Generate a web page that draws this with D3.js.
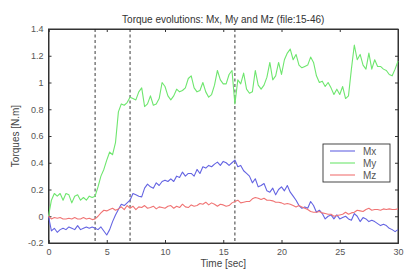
<!DOCTYPE html>
<html>
<head>
<meta charset="utf-8">
<script src="https://cdn.jsdelivr.net/npm/d3@7"></script>
<style>
  body { margin: 0; background: #fff; }
  svg { font-family: "Liberation Sans", Arial, sans-serif; }
</style>
</head>
<body>
<svg width="406" height="273"></svg>
<script>
// sampled every 0.25 s, 0..30
const step = 0.25;
const myValues = [
  0.00, 0.12, 0.17, 0.15, 0.17, 0.12, 0.17, 0.16, 0.10, 0.15, 0.16, 0.12, 0.14, 0.12, 0.15, 0.14,
  0.15, 0.22, 0.30, 0.35, 0.42, 0.48, 0.46, 0.55, 0.78, 0.84, 0.83, 0.85, 0.89, 0.88, 0.87, 0.93,
  0.96, 0.82, 0.84, 0.90, 0.83, 0.84, 0.88, 1.00, 0.97, 0.90, 0.87, 0.90, 0.95, 0.93, 0.94, 0.96,
  1.03, 1.05, 0.96, 0.93, 0.94, 1.00, 0.93, 0.89, 0.91, 0.98, 1.09, 1.02, 0.99, 0.99, 1.06, 1.09,
  0.84, 1.02, 0.99, 1.07, 0.95, 0.92, 0.93, 1.09, 0.98, 0.95, 0.98, 1.04, 1.15, 1.02, 1.05, 1.15,
  1.06, 1.17, 1.22, 1.25, 1.17, 1.21, 1.13, 1.11, 1.12, 1.13, 1.19, 1.15, 1.05, 1.00, 1.01, 0.97,
  1.00, 0.96, 0.91, 0.95, 0.91, 0.97, 0.88, 0.90, 1.10, 1.28, 1.17, 1.21, 1.13, 1.10, 1.22, 1.10,
  1.17, 1.12, 1.12, 1.10, 1.09, 1.06, 1.05, 1.10, 1.16
];
const mxValues = [
  0.00, -0.11, -0.09, -0.12, -0.10, -0.09, -0.10, -0.08, -0.09, -0.10, -0.07, -0.10, -0.09, -0.08, -0.09, -0.08,
  -0.09, -0.10, -0.08, -0.11, -0.14, -0.10, -0.04, 0.01, 0.05, 0.09, 0.08, 0.10, 0.12, 0.17, 0.16, 0.15,
  0.145, 0.21, 0.24, 0.22, 0.21, 0.25, 0.23, 0.26, 0.27, 0.26, 0.28, 0.26, 0.30, 0.29, 0.33, 0.30,
  0.32, 0.32, 0.30, 0.35, 0.32, 0.37, 0.36, 0.38, 0.37, 0.39, 0.405, 0.38, 0.41, 0.40, 0.38, 0.40,
  0.42, 0.37, 0.38, 0.34, 0.32, 0.30, 0.25, 0.28, 0.22, 0.23, 0.245, 0.19, 0.18, 0.21, 0.16, 0.20,
  0.22, 0.19, 0.23, 0.18, 0.15, 0.12, 0.08, 0.06, 0.07, 0.06, 0.11, 0.08, 0.03, 0.045, 0.02, -0.02,
  0.00, 0.01, -0.02, 0.01, -0.02, -0.01, 0.00, -0.02, -0.03, 0.02, 0.00, -0.04, -0.01, -0.02, -0.04, -0.03,
  -0.04, -0.055, -0.07, -0.06, -0.07, -0.09, -0.10, -0.115, -0.10
];
const mzValues = [
  0.00, -0.02, -0.01, -0.015, -0.01, -0.02, -0.02, -0.015, -0.02, -0.01, -0.02, -0.02, -0.01, -0.02, -0.015, -0.025,
  -0.02, 0.00, 0.025, 0.045, 0.04, 0.05, 0.06, 0.045, 0.055, 0.07, 0.05, 0.08, 0.06, 0.075, 0.05, 0.07,
  0.065, 0.08, 0.06, 0.065, 0.075, 0.055, 0.07, 0.065, 0.06, 0.075, 0.08, 0.06, 0.075, 0.065, 0.09, 0.07,
  0.065, 0.085, 0.075, 0.08, 0.095, 0.09, 0.105, 0.085, 0.10, 0.09, 0.075, 0.09, 0.085, 0.075, 0.08, 0.10,
  0.11, 0.12, 0.10, 0.105, 0.11, 0.11, 0.13, 0.14, 0.135, 0.125, 0.135, 0.12, 0.12, 0.115, 0.105, 0.105,
  0.10, 0.09, 0.095, 0.09, 0.08, 0.07, 0.08, 0.07, 0.06, 0.05, 0.035, 0.03, 0.03, 0.035, 0.025, 0.02,
  0.015, 0.015, 0.00, 0.005, 0.01, 0.015, 0.03, 0.015, 0.025, 0.03, 0.045, 0.04, 0.035, 0.05, 0.06, 0.045,
  0.05, 0.05, 0.045, 0.055, 0.05, 0.055, 0.05, 0.05, 0.055
];
const seriesNames = ['Mx', 'My', 'Mz'];
const seriesColors = ['#6464e2', '#6ee66e', '#f07474'];
const markerTimes = [4, 7, 16];
const xTicks = [0, 5, 10, 15, 20, 25, 30];
const yTicks = [-0.2, 0, 0.2, 0.4, 0.6, 0.8, 1, 1.2, 1.4];

const svg = d3.select('svg');
const margin = {top: 29, right: 8, bottom: 30, left: 48.5};
const width = 406, height = 273;

const x = d3.scaleLinear().domain([0, 30]).range([margin.left, width - margin.right]);
const y = d3.scaleLinear().domain([-0.2, 1.4]).range([height - margin.bottom, margin.top]);

const series = [mxValues, myValues, mzValues].map((vals, i) => ({
    name: seriesNames[i],
    color: seriesColors[i],
    points: vals.map((v, k) => [k * step, v])
}));

// plot box
svg.append('rect')
    .attr('x', x(0)).attr('y', y(1.4))
    .attr('width', x(30) - x(0)).attr('height', y(-0.2) - y(1.4))
    .attr('fill', '#fff').attr('stroke', '#333').attr('stroke-width', 1);

// axes, ticks pointing inward (matlab style)
const fmt = d => d === 0 ? '0' : String(d);
const axes = [
    svg.append('g').attr('transform', `translate(0,${y(-0.2)})`)
        .call(d3.axisBottom(x).tickValues(xTicks).tickSize(-3).tickPadding(6).tickFormat(fmt)),
    svg.append('g').attr('transform', `translate(${x(0)},0)`)
        .call(d3.axisLeft(y).tickValues(yTicks).tickSize(-3).tickPadding(5).tickFormat(fmt)),
    svg.append('g').attr('transform', `translate(0,${y(1.4)})`)
        .call(d3.axisTop(x).tickValues(xTicks).tickSize(-3).tickFormat('')),
    svg.append('g').attr('transform', `translate(${x(30)},0)`)
        .call(d3.axisRight(y).tickValues(yTicks).tickSize(-3).tickFormat(''))
];
axes.forEach(g => {
    g.select('.domain').attr('stroke', '#333');
    g.selectAll('.tick line').attr('stroke', '#333');
    g.selectAll('.tick text').attr('fill', '#555').style('font-size', '9px');
});

// event markers
svg.selectAll('.marker')
    .data(markerTimes)
    .enter().append('line')
    .attr('class', 'marker')
    .attr('x1', d => x(d)).attr('x2', d => x(d))
    .attr('y1', y(1.4)).attr('y2', y(-0.2))
    .attr('stroke', '#222').attr('stroke-width', 0.9)
    .attr('stroke-dasharray', '3,2.5');

const line = d3.line().x(d => x(d[0])).y(d => y(d[1]));

svg.selectAll('.series')
    .data(series)
    .enter().append('path')
    .attr('class', 'series')
    .attr('d', d => line(d.points))
    .attr('fill', 'none')
    .attr('stroke', d => d.color)
    .attr('stroke-width', 1.1)
    .attr('stroke-linejoin', 'round');

// titles
svg.append('text')
    .attr('x', (x(0) + x(30)) / 2).attr('y', 23)
    .attr('text-anchor', 'middle')
    .style('font-size', '10px').attr('fill', '#333')
    .text('Torque evolutions: Mx, My and Mz (file:15-46)');

svg.append('text')
    .attr('x', (x(0) + x(30)) / 2).attr('y', 267)
    .attr('text-anchor', 'middle')
    .style('font-size', '10px').attr('fill', '#444')
    .text('Time [sec]');

svg.append('text')
    .attr('transform', `translate(19,${(y(1.4) + y(-0.2)) / 2}) rotate(-90)`)
    .attr('text-anchor', 'middle')
    .style('font-size', '10px').attr('fill', '#444')
    .text('Torques [N.m]');

// legend
const legend = svg.append('g').attr('transform', 'translate(323,144)');
legend.append('rect')
    .attr('width', 67).attr('height', 38)
    .attr('fill', '#fff').attr('stroke', '#333').attr('stroke-width', 0.9);
const items = legend.selectAll('.item')
    .data(series)
    .enter().append('g')
    .attr('class', 'item')
    .attr('transform', (d, i) => `translate(0,${7 + i * 12})`);
items.append('line')
    .attr('x1', 7).attr('x2', 32)
    .attr('stroke', d => d.color).attr('stroke-width', 1.1);
items.append('text')
    .attr('x', 40).attr('y', 3.5)
    .style('font-size', '10px').attr('fill', '#555')
    .text(d => d.name);
</script>
</body>
</html>
